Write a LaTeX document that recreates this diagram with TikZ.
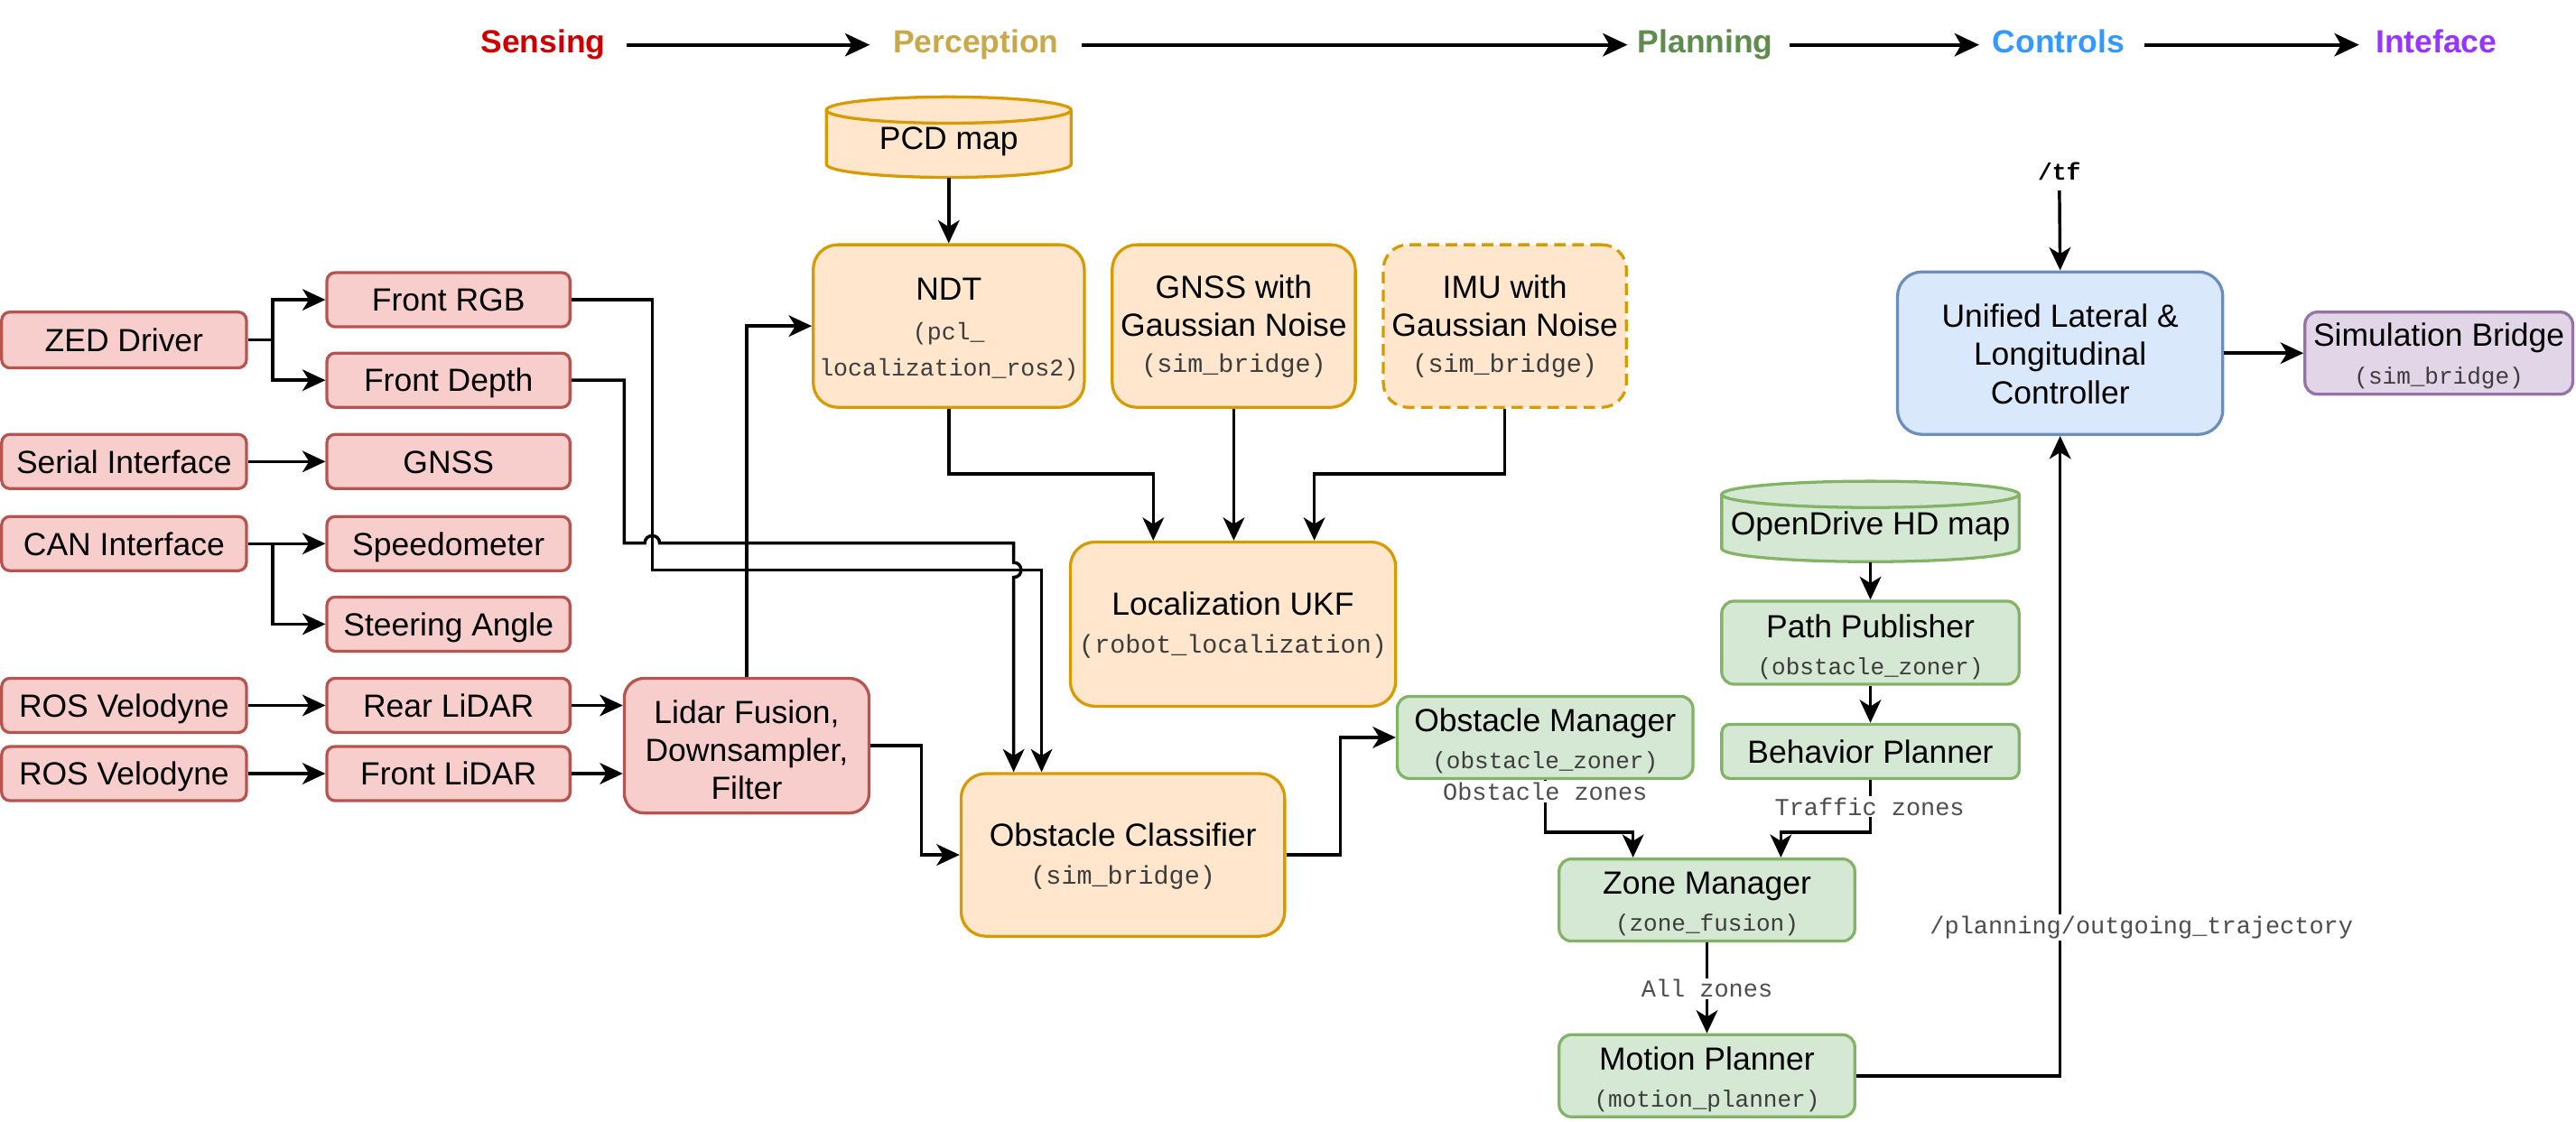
\documentclass[tikz,border=0pt]{standalone}
\usepackage{fontspec}
\setmainfont{Liberation Sans}
\newfontfamily\monof{Liberation Mono}
\usetikzlibrary{arrows.meta}
\definecolor{redF}{HTML}{F8CECC}\definecolor{redD}{HTML}{B85450}
\definecolor{oraF}{HTML}{FFE6CC}\definecolor{oraD}{HTML}{D79B00}
\definecolor{grnF}{HTML}{D5E8D4}\definecolor{grnD}{HTML}{82B366}
\definecolor{bluF}{HTML}{DAE8FC}\definecolor{bluD}{HTML}{6C8EBF}
\definecolor{purF}{HTML}{E1D5E7}\definecolor{purD}{HTML}{9673A6}
\definecolor{hSens}{HTML}{CC0000}\definecolor{hPerc}{HTML}{C8A84B}
\definecolor{hPlan}{HTML}{5F8B4C}\definecolor{hCtrl}{HTML}{3399FF}
\definecolor{hInt}{HTML}{9933FF}
\definecolor{subgrey}{HTML}{3C3C3C}\definecolor{labgrey}{HTML}{4D4D4D}
\begin{document}
\begin{tikzpicture}[x=1pt,y=-1pt,
  box/.style={draw, line width=1.8pt, inner sep=0pt, font=\fontsize{19.5}{23.3}\selectfont, text height=14pt, text depth=0pt},
  redbox/.style={box, fill=redF, draw=redD, rounded corners=5pt, minimum width=148pt, minimum height=33pt},
  orabox/.style={box, fill=oraF, draw=oraD, rounded corners=15pt},
  grnbox/.style={box, fill=grnF, draw=grnD, rounded corners=7.5pt, minimum width=180pt, minimum height=50pt},
  title/.style={inner sep=0pt, font=\fontsize{19.5}{23.3}\selectfont, text height=14pt, text depth=0pt},
  multi/.style={inner sep=0pt, font=\fontsize{19.5}{23.3}\selectfont, align=center},
  subA/.style={inner sep=0pt, font=\monof\fontsize{15.6}{18}\selectfont, text=subgrey, text height=8.8pt, text depth=0pt},
  subN/.style={inner sep=0pt, font=\monof\fontsize{14.6}{17}\selectfont, text=subgrey, text height=8.4pt, text depth=0pt},
  subB/.style={inner sep=0pt, font=\monof\fontsize{14.3}{17}\selectfont, text=subgrey, text height=8pt, text depth=0pt},
  lab/.style={fill=white, inner xsep=2pt, inner ysep=1pt, font=\monof\fontsize{14.8}{17}\selectfont, text=labgrey},
  head/.style={inner sep=0pt, font=\bfseries\fontsize{19.5}{23.3}\selectfont, anchor=base, text height=14pt, text depth=4pt},
  edge/.style={line width=1.9pt, -{Stealth[length=14pt,width=13pt,inset=4pt]}},
  plain/.style={line width=1.9pt},
  harrow/.style={line width=2.2pt, -{Stealth[length=15pt,width=14pt,inset=4pt]}}
]
\useasboundingbox (0,0) rectangle (1568,683);

% ---------- header ----------
\node[head, text=hSens] (hsens) at (330.5,32.3) {Sensing};
\node[head, text=hPerc] (hperc) at (594,32.3) {Perception};
\node[head, text=hPlan] (hplan) at (1038,32.3) {Planning};
\node[head, text=hCtrl] (hctrl) at (1253,32.3) {Controls};
\node[head, text=hInt] (hint) at (1483,32.3) {Inteface};
\draw[harrow, shorten <=13pt, shorten >=14pt] (hsens.east) -- (hperc.west);
\draw[harrow, shorten <=14pt, shorten >=6pt] (hperc.east) -- (hplan.west);
\draw[harrow, shorten <=10pt, shorten >=8pt] (hplan.east) -- (hctrl.west);
\draw[harrow, shorten <=12pt, shorten >=10pt] (hctrl.east) -- (hint.west);

% ---------- sensing ----------
\node[redbox, minimum width=149pt, minimum height=34pt] (zed) at (75.5,207) {ZED Driver};
\node[redbox] (frgb) at (273,182.5) {Front RGB};
\node[redbox] (fdepth) at (273,231.5) {Front Depth};
\node[redbox, minimum width=149pt] (serial) at (75.5,281) {Serial Interface};
\node[redbox] (gnss) at (273,281) {GNSS};
\node[redbox, minimum width=149pt] (can) at (75.5,331) {CAN Interface};
\node[redbox] (speedo) at (273,331) {Speedometer};
\node[redbox] (steer) at (273,380) {Steering Angle};
\node[redbox, minimum width=149pt] (rosvA) at (75.5,429.5) {ROS Velodyne};
\node[redbox] (rear) at (273,429.5) {Rear LiDAR};
\node[redbox, minimum width=149pt] (rosvB) at (75.5,471) {ROS Velodyne};
\node[redbox] (flidar) at (273,471) {Front LiDAR};
\node[redbox, minimum width=149pt, minimum height=82pt, rounded corners=12pt] (lfus) at (454.5,454) {};
\node[multi] (lfust) at (454.5,456.6) {Lidar Fusion,\\Downsampler,\\Filter};

% ---------- perception ----------
\filldraw[fill=oraF, draw=oraD, line width=1.8pt] (503,67) -- (503,100)
  arc[start angle=180, end angle=360, x radius=74.5pt, y radius=8pt] -- (652,67)
  arc[start angle=0, end angle=180, x radius=74.5pt, y radius=8pt] -- cycle;
\draw[draw=oraD, line width=1.8pt] (503,67) arc[start angle=180, end angle=360, x radius=74.5pt, y radius=8pt];
\node[inner sep=0pt, minimum width=149pt, minimum height=49pt] (pcd) at (577.5,83.5) {};
\node[title] (pcdt) at (577.5,84) {PCD map};

\node[orabox, minimum width=165pt, minimum height=99pt] (ndt) at (577.5,198.5) {};
\node[title] (ndtA) at (577.5,176) {NDT};
\node[subN] (ndtB) at (577.5,202.8) {(pcl\_};
\node[subN] (ndtC) at (577.5,224.8) {localization\_ros2)};

\node[orabox, minimum width=148pt, minimum height=99pt] (gnssn) at (751,198.5) {};
\node[title] (gnssnA) at (751,174.6) {GNSS with};
\node[title] (gnssnB) at (751,197.9) {Gaussian Noise};
\node[subA] (gnssnC) at (751,222.4) {(sim\_bridge)};

\node[orabox, minimum width=148pt, minimum height=99pt, dash pattern=on 7pt off 4pt] (imu) at (916,198.5) {};
\node[title] (imuA) at (916,174.6) {IMU with};
\node[title] (imuB) at (916,197.9) {Gaussian Noise};
\node[subA] (imuC) at (916,222.4) {(sim\_bridge)};

\node[orabox, minimum width=198pt, minimum height=100pt] (ukf) at (750.5,380) {};
\node[title] (ukfA) at (750.5,367.5) {Localization UKF};
\node[subA] (ukfB) at (750.5,393.2) {(robot\_localization)};

\node[orabox, minimum width=197pt, minimum height=99pt] (oc) at (683.5,520.5) {};
\node[title] (ocA) at (683.5,508) {Obstacle Classifier};
\node[subA] (ocB) at (683.5,533.8) {(sim\_bridge)};

% ---------- planning ----------
\filldraw[fill=grnF, draw=grnD, line width=1.8pt] (1048,301) -- (1048,334)
  arc[start angle=180, end angle=360, x radius=90.5pt, y radius=8pt] -- (1229,301)
  arc[start angle=0, end angle=180, x radius=90.5pt, y radius=8pt] -- cycle;
\draw[draw=grnD, line width=1.8pt] (1048,301) arc[start angle=180, end angle=360, x radius=90.5pt, y radius=8pt];
\node[inner sep=0pt, minimum width=181pt, minimum height=49pt] (odm) at (1138.5,317.5) {};
\node[title] (odmt) at (1138.5,318.5) {OpenDrive HD map};

\node[grnbox, minimum width=181pt, minimum height=50.6pt] (pp) at (1138.5,391.3) {};
\node[title] (ppA) at (1138.5,381.4) {Path Publisher};
\node[subB] (ppB) at (1138.5,406.7) {(obstacle\_zoner)};

\node[grnbox, minimum width=181pt, minimum height=33pt, rounded corners=5pt] (bp) at (1138.5,457.5) {Behavior Planner};

\node[grnbox] (om) at (940.5,449) {};
\node[title] (omA) at (940.5,438.5) {Obstacle Manager};
\node[subB] (omB) at (940.5,464) {(obstacle\_zoner)};

\node[grnbox] (zm) at (1039,548) {};
\node[title] (zmA) at (1039,537.5) {Zone Manager};
\node[subB] (zmB) at (1039,563) {(zone\_fusion)};

\node[grnbox] (mp) at (1039,655) {};
\node[title] (mpA) at (1039,644.6) {Motion Planner};
\node[subB] (mpB) at (1039,670) {(motion\_planner)};

% ---------- controls / interface ----------
\node[box, fill=bluF, draw=bluD, rounded corners=15pt, minimum width=198pt, minimum height=99pt] (ctrl) at (1254,215) {};
\node[multi] (ctrlt) at (1254,215.5) {Unified Lateral \&\\Longitudinal\\Controller};
\node[box, fill=purF, draw=purD, rounded corners=7.5pt, minimum width=163pt, minimum height=50pt] (sim) at (1484.5,215) {};
\node[title] (simA) at (1484.5,203.7) {Simulation Bridge};
\node[subB] (simB) at (1484.5,229.7) {(sim\_bridge)};
\node[inner sep=0pt, font=\monof\bfseries\fontsize{14.5}{16}\selectfont] (tf) at (1253.5,104.4) {/tf};

% ---------- connectors: sensing ----------
\coordinate (zsplit) at (166,207);
\draw[plain] (zed.east) -- (zsplit);
\draw[edge] (zsplit) |- (frgb.west);
\draw[edge] (zsplit) |- (fdepth.west);
\draw[edge] (serial.east) -- (gnss.west);
\coordinate (csplit) at (166,331);
\draw[plain] (can.east) -- (csplit);
\draw[edge] (csplit) -- (speedo.west);
\draw[edge] (csplit) |- (steer.west);
\draw[edge] (rosvA.east) -- (rear.west);
\draw[edge] (rosvB.east) -- (flidar.west);
\draw[edge] (rear.east) -- (rear.east -| lfus.west);
\draw[edge] (flidar.east) -- (flidar.east -| lfus.west);
\draw[edge] (lfus.north) |- (ndt.west);
\draw[edge] (lfus.east) -- (561,454) |- (oc.west);
\draw[edge] (frgb.east) -- (397,182.5) -- (397,347) -- (634,347) -- (634,0 |- oc.north);
\draw[edge] (fdepth.east) -- (380,231.5) -- (380,330.7) -- (392.5,330.7)
  .. controls (392.5,324.7) and (401.5,324.7) .. (401.5,330.7) -- (617,330.7) -- (617,342.5)
  .. controls (623,342.5) and (623,351.5) .. (617,351.5) -- (617,0 |- oc.north);

% ---------- connectors: perception ----------
\draw[edge] (pcd.south) -- (ndt.north);
\draw[edge] (ndt.south) |- (702,288.5) -- (702,0 |- ukf.north);
\draw[edge] (gnssn.south) -- (gnssn.south |- ukf.north);
\draw[edge] (imu.south) |- (800,288.5) -- (800,0 |- ukf.north);
\draw[edge] (oc.east) -- (816,520.5) |- (om.west);

% ---------- connectors: planning / controls ----------
\draw[edge] (odm.south) -- (pp.north);
\draw[edge] (pp.south) -- (bp.north);
\draw[edge] (om.south) |- (994,506.7) -- (994,0 |- zm.north);
\draw[edge] (bp.south) |- (1084,506.7) -- (1084,0 |- zm.north);
\draw[edge] (zm.south) -- (mp.north);
\draw[edge] (mp.east) -| (ctrl.south);
\draw[edge, shorten <=6pt] (tf.south) -- (ctrl.north);
\draw[edge] (ctrl.east) -- (sim.west);

% ---------- labels ----------
\node[lab] (lobs) at (940.5,482) {Obstacle zones};
\node[lab] (ltraf) at (1138,491) {Traffic zones};
\node[lab] (lall) at (1039,602) {All zones};
\node[lab] (ltraj) at (1303.5,564.5) {/planning/outgoing\_trajectory};
\end{tikzpicture}
\end{document}
